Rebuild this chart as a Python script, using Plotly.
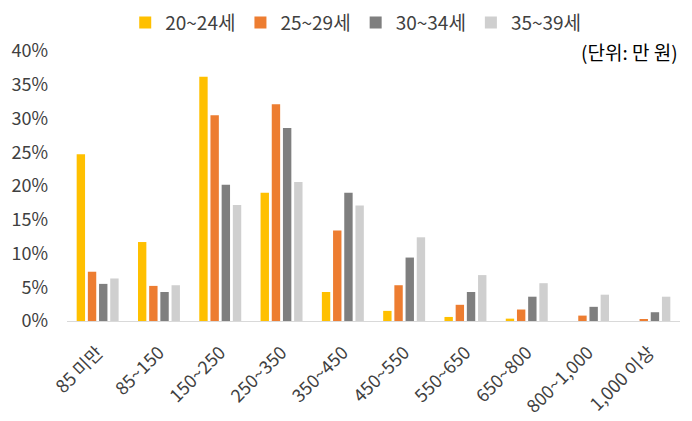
import plotly.graph_objects as go

categories = ["85 미만", "85~150", "150~250", "250~350", "350~450", "450~550",
              "550~650", "650~800", "800~1,000", "1,000 이상"]
series_names = ["20~24세", "25~29세", "30~34세", "35~39세"]
age_20_24 = [24.7, 11.7, 36.2, 19.0, 4.3, 1.5, 0.6, 0.35, 0.0, 0.0]
age_25_29 = [7.3, 5.2, 30.5, 32.1, 13.4, 5.3, 2.4, 1.7, 0.8, 0.3]
age_30_34 = [5.5, 4.3, 20.2, 28.6, 19.0, 9.4, 4.3, 3.6, 2.1, 1.3]
age_35_39 = [6.3, 5.3, 17.2, 20.6, 17.1, 12.4, 6.8, 5.6, 3.9, 3.6]
y_ticks = [0, 5, 10, 15, 20, 25, 30, 35, 40]

colors = ["#FFC000", "#ED7D31", "#7F7F7F", "#CFCFCF"]
FONT = "Noto Sans CJK KR"

fig = go.Figure()
for name, vals, c in zip(series_names, [age_20_24, age_25_29, age_30_34, age_35_39], colors):
    fig.add_trace(go.Bar(name=name, x=categories, y=[v / 100 for v in vals],
                         marker=dict(color=c, line=dict(width=0))))

fig.update_layout(
    width=692, height=421,
    margin=dict(l=59, r=20, t=43, b=108, autoexpand=False),
    paper_bgcolor="white", plot_bgcolor="white",
    barmode="group", bargap=0.27, bargroupgap=0.25,
    font=dict(family=FONT, size=18, color="#404040"),
    legend=dict(orientation="h", x=0.471, xanchor="center", y=1.105, yanchor="middle",
                yref="paper", font=dict(size=19, color="#404040"),
                itemwidth=30, traceorder="normal"),
    xaxis=dict(showline=True, linecolor="#D9D9D9", linewidth=1, tickangle=-45,
               ticks="", showgrid=False, automargin=False, ticklabelstandoff=13,
               tickfont=dict(size=18, color="#404040")),
    yaxis=dict(range=[0, 0.40], tickvals=[t / 100 for t in y_ticks],
               ticktext=[f"{t}%" for t in y_ticks], showgrid=False, zeroline=False,
               showline=False, ticks="", ticklabelstandoff=18, automargin=False,
               tickfont=dict(size=18, color="#404040")),
    annotations=[dict(text="(단위: 만 원)", x=1.0, xanchor="right", y=1.0, yanchor="middle",
                      xref="paper", yref="paper", showarrow=False,
                      font=dict(size=19, color="#000000"))],
)

fig.write_html("out.html")
